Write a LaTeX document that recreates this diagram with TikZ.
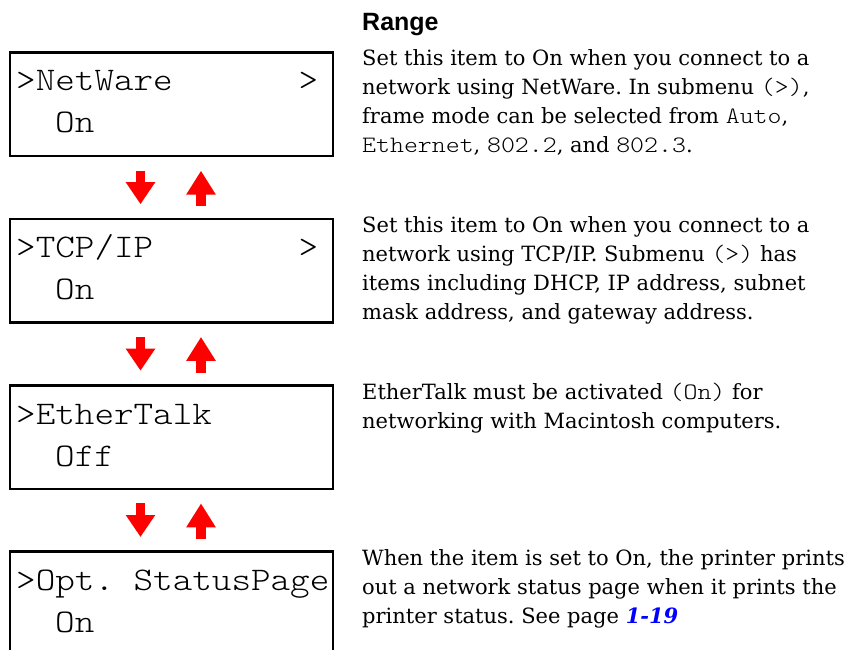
\documentclass[tikz,border=0pt]{standalone}
\usepackage{fontspec}
\setmainfont{DejaVu Serif}
\newfontfamily\lcdfont[FakeStretch=1.13]{Latin Modern Mono Light}
\newfontfamily\headfont{Liberation Sans}
\usetikzlibrary{calc,arrows.meta}
\definecolor{linkblue}{RGB}{0,0,255}
\newcommand{\mt}[1]{{\fontsize{23.5}{29}\lcdfont #1}}
\frenchspacing
\begin{document}
\begin{tikzpicture}[x=1pt,y=-1pt,
  lcd/.style={draw=black,line width=2.6pt,minimum width=323pt,minimum height=103.5pt,inner sep=0pt,anchor=north west},
  lcdtext/.style={font=\fontsize{33}{33}\lcdfont,inner sep=0pt,anchor=base west},
  body/.style={font=\fontsize{21}{29}\selectfont,inner sep=0pt,anchor=base west},
  head/.style={font=\fontsize{25}{28}\headfont\bfseries,inner sep=0pt,anchor=base west},
  dnarrow/.style={draw=red,line width=9pt,-{Triangle[width=28pt,length=22pt]}},
  uparrow/.style={draw=red,line width=9.5pt,-{Triangle[width=28pt,length=24pt]}}
]
\useasboundingbox (0,0) rectangle (846,650);
\clip (0,0) rectangle (846,650);
\fill[white] (0,0) rectangle (846,650);

% LCD boxes
\node[lcd] (b1) at (8.8,51.3) {};
\node[lcd] (b2) at (8.8,217.5) {};
\node[lcd] (b3) at (8.8,384.0) {};
\node[lcd] (b4) at (8.8,550.3) {};

% LCD texts
\node[lcdtext] (t1a) at (16,91) {>NetWare};
\node[lcdtext] (t1c) at (298.5,91) {>};
\node[lcdtext] (t1b) at (55,133) {On};
\node[lcdtext] (t2a) at (16,257) {>TCP/IP};
\node[lcdtext] (t2c) at (298.5,257) {>};
\node[lcdtext] (t2b) at (55,299) {On};
\node[lcdtext] (t3a) at (16,424) {>EtherTalk};
\node[lcdtext] (t3b) at (55,466) {Off};
\node[lcdtext] (t4a) at (16,590) {>Opt.\ StatusPage};
\node[lcdtext] (t4b) at (55,632) {On};

% arrows between boxes
\foreach \u/\l in {b1/b2,b2/b3,b3/b4}{
  \draw[dnarrow] ($(\u.south west)+(131.7,13.3)$) coordinate (\u d1) -- ($(\l.north west)+(131.7,-13.3)$) coordinate (\u d2);
  \draw[uparrow] ($(\l.north west)+(192.2,-11.3)$) coordinate (\u u1) -- ($(\u.south west)+(192.2,13.3)$) coordinate (\u u2);
}

% right column
\node[head] (hd) at (362,31) {Range};

\node[body] (p1a) at (362,66) {Set this item to On when you connect to a};
\node[body] (p1b) at (362,95) {network using NetWare. In submenu \mt{(>)},};
\node[body] (p1c) at (362,124) {frame mode can be selected from \mt{Auto},};
\node[body] (p1d) at (362,153) {\mt{Ethernet}, \mt{802.2}, and \mt{802.3}.};

\node[body] (p2a) at (362,232) {Set this item to On when you connect to a};
\node[body] (p2b) at (362,261) {network using TCP/IP. Submenu \mt{(>)} has};
\node[body] (p2c) at (362,290) {items including DHCP, IP address, subnet};
\node[body] (p2d) at (362,319.5) {mask address, and gateway address.};

\node[body] (p3a) at (362,399) {EtherTalk must be activated \mt{(On)} for};
\node[body] (p3b) at (362,428) {networking with Macintosh computers.};

\node[body] (p4a) at (362,565) {When the item is set to On, the printer prints};
\node[body] (p4b) at (362,594) {out a network status page when it prints the};
\node[body] (p4c) at (362,623) {printer status. See page {\color{linkblue}\bfseries\itshape 1-19}};
\end{tikzpicture}
\end{document}
